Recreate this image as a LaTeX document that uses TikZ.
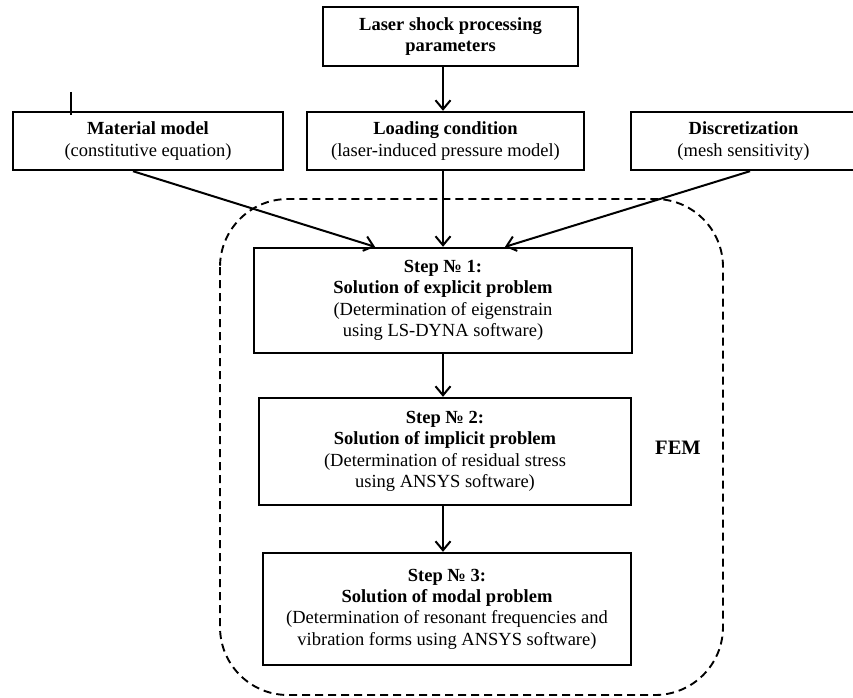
\documentclass[tikz,border=0pt]{standalone}
\usepackage{fontspec}
\setmainfont{Liberation Serif}
\usetikzlibrary{positioning, calc, arrows.meta}

\begin{document}
\begin{tikzpicture}[
    x = 1pt, y = -1pt,
    font = \fontsize{18.5}{21.3}\selectfont,
    arr/.style = {draw, line width = 2pt, -{Straight Barb[length = 9pt, width = 15pt, line width = 2pt]}}
  ]
  \tikzstyle {box} = [draw, line width = 2.4pt, shape = rectangle, fill = white, align = center, inner sep = 0, minimum height = 58pt]
  \tikzstyle {stepbox} = [box, minimum height = 106pt]
  \useasboundingbox (0,0) rectangle (853,697);
  % dashed frame
  \draw [dashed, line width = 1.9pt, dash pattern = on 8pt off 5pt, rounded corners = 68pt] (220,199) rectangle (723,695);
  % place nodes
  \path node (param) [box, minimum width = 255pt, minimum height = 59pt] at (450.5,36.5) {\textbf{Laser shock processing}\\\textbf{parameters}};
  \path node (mat) [box, minimum width = 270pt] at (148,141) {\textbf{Material model}\\(constitutive equation)};
  \path node (load) [box, minimum width = 277pt] at (445.5,141) {\textbf{Loading condition}\\(laser-induced pressure model)};
  \path node (disc) [box, minimum width = 225pt] at (743.5,141) {\textbf{Discretization}\\(mesh sensitivity)};
  \path node (s1) [stepbox, minimum width = 378pt, minimum height = 105pt] at (443,300.5) {\textbf{Step № 1:}\\\textbf{Solution of explicit problem}\\(Determination of eigenstrain\\using LS-DYNA software)};
  \path node (s2) [stepbox, minimum width = 372pt, minimum height = 107pt] at (445,451.5) {\textbf{Step № 2:}\\\textbf{Solution of implicit problem}\\(Determination of residual stress\\using ANSYS software)};
  \path node (s3) [stepbox, minimum width = 368pt, minimum height = 112pt] at (447,609) {\textbf{Step № 3:}\\\textbf{Solution of modal problem}\\(Determination of resonant frequencies and\\vibration forms using ANSYS software)};
  \path node (fem) at (678,448) {\fontsize{20.5}{24}\selectfont\textbf{FEM}};
  % cursor mark
  \draw [line width = 1.4pt] ($(mat.north west)+(59,-19)$) -- ($(mat.north west)+(59,4)$);
  % place edges
  \draw [arr] (param.south -| s1.north) -- (load.north -| s1.north);
  \draw [arr] ($(mat.south)+(-15,0)$) -- ($(s1.north)+(-68,0)$);
  \draw [arr] (load.south -| s1.north) -- (s1.north);
  \draw [arr] ($(disc.south)+(6.5,0)$) -- ($(s1.north)+(62,0)$);
  \foreach \a/\b in {s1/s2, s2/s3}
    { \draw [arr] (\a.south -| s1.north) -- (\b.north -| s1.north) ; } ;
\end{tikzpicture}
\end{document}
